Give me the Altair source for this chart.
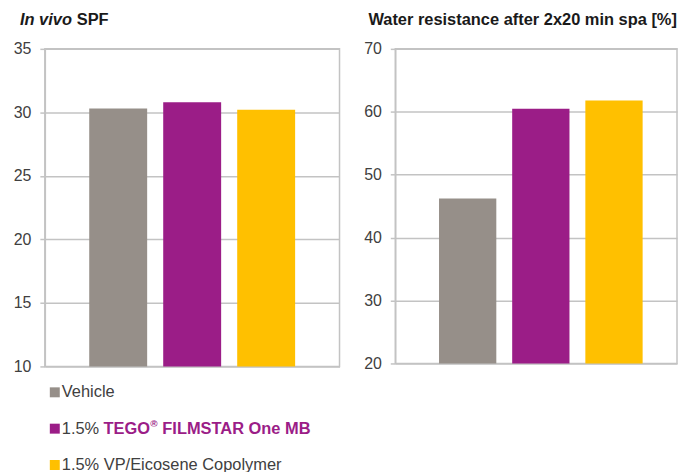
import altair as alt
import pandas as pd

# ---- data ----
series = ["Vehicle", "1.5% TEGO® FILMSTAR One MB", "1.5% VP/Eicosene Copolymer"]
spf = [30.3, 30.8, 30.2]
water = [46.2, 60.5, 61.8]
colors = ["#968F89", "#9B1D87", "#FFC000"]
spf_ticks = [10, 15, 20, 25, 30, 35]
water_ticks = [20, 30, 40, 50, 60, 70]
legend_plain = ["Vehicle", "1.5%", "1.5% VP/Eicosene Copolymer"]
legend_brand = ["", "TEGO", ""]
legend_reg = ["", "®", ""]
legend_rest = ["", "FILMSTAR One MB", ""]
title_left_italic = ["In vivo"]
title_left_plain = ["SPF"]
title_right = ["Water resistance after 2x20 min spa [%]"]

df = pd.DataFrame({
    "series": series, "spf": spf, "water": water,
    "plain": legend_plain, "brand": legend_brand,
    "reg": legend_reg, "rest": legend_rest,
})

FONT = "Liberation Sans"
GRID = "#c3c3c3"
TXT = "#404040"

color = alt.Color("series:N", scale=alt.Scale(domain=series, range=colors), legend=None)


def xband(po, align=0.5):
    return alt.X("series:N", sort=series, axis=None,
                 scale=alt.Scale(paddingInner=0.217, paddingOuter=po, align=align))


def yaxis(ticks):
    return alt.Axis(values=ticks, title=None, grid=True, gridColor=GRID, gridWidth=1.5,
                    domainColor=GRID, domainWidth=1.5, tickColor=GRID, tickWidth=1.5,
                    tickSize=5, labelFontSize=16, labelColor=TXT, labelFont=FONT,
                    labelPadding=9)


def title_layer(texts, x, italic=False):
    return alt.Chart(pd.DataFrame({"t": texts})).mark_text(
        align="left", baseline="alphabetic", font=FONT, fontSize=16.5,
        fontWeight="bold", fontStyle="italic" if italic else "normal", color="#1a1a1a"
    ).encode(x=alt.value(x), y=alt.value(-24), text="t:N")


left_bars = alt.Chart(df).mark_bar().encode(
    x=xband(0.6),
    y=alt.Y("spf:Q", scale=alt.Scale(domain=[10, 35], nice=False, zero=False), axis=yaxis(spf_ticks)),
    y2=alt.datum(10),
    color=color,
)
left = alt.layer(
    left_bars,
    title_layer(title_left_italic, -25, italic=True),
    title_layer(title_left_plain, 32),
).properties(width=296, height=319)

right_bars = alt.Chart(df).mark_bar().encode(
    x=xband(0.534, 0.56),
    y=alt.Y("water:Q", scale=alt.Scale(domain=[20, 70], nice=False, zero=False), axis=yaxis(water_ticks)),
    y2=alt.datum(20),
    color=color,
)
right = alt.layer(
    right_bars,
    title_layer(title_right, -27),
).properties(width=283, height=316)

leg_y = alt.Y("series:N", sort=series, axis=None, scale=alt.Scale(type="point", padding=0))
leg_base = alt.Chart(df).encode(y=leg_y)
leg_sq = leg_base.mark_square(size=100, opacity=1).encode(x=alt.value(10), color=color)
leg_t1 = leg_base.mark_text(align="left", baseline="middle", font=FONT, fontSize=16.5,
                            color=TXT).encode(x=alt.value(17), text="plain:N")
leg_t2 = leg_base.mark_text(align="left", baseline="middle", font=FONT, fontSize=16.5,
                            fontWeight="bold", color="#9B1D87").encode(x=alt.value(59), text="brand:N")
leg_t3 = leg_base.mark_text(align="left", baseline="middle", font=FONT, fontSize=10,
                            fontWeight="bold", color="#9B1D87", dy=-5).encode(x=alt.value(106), text="reg:N")
leg_t4 = leg_base.mark_text(align="left", baseline="middle", font=FONT, fontSize=16.5,
                            fontWeight="bold", color="#9B1D87").encode(x=alt.value(118), text="rest:N")
legend = alt.layer(leg_sq, leg_t1, leg_t2, leg_t3, leg_t4).properties(
    width=300, height=73, view=alt.ViewBackground(strokeWidth=0)
)

chart = alt.vconcat(
    alt.hconcat(left, right, spacing=22),
    legend,
    spacing=7,
).properties(
    padding={"left": 4, "top": 2, "right": 0, "bottom": 0},
    background="white",
).configure_view(stroke=GRID, strokeWidth=1.5)

chart.save("out.html", embed_options={"renderer": "svg", "actions": False})
